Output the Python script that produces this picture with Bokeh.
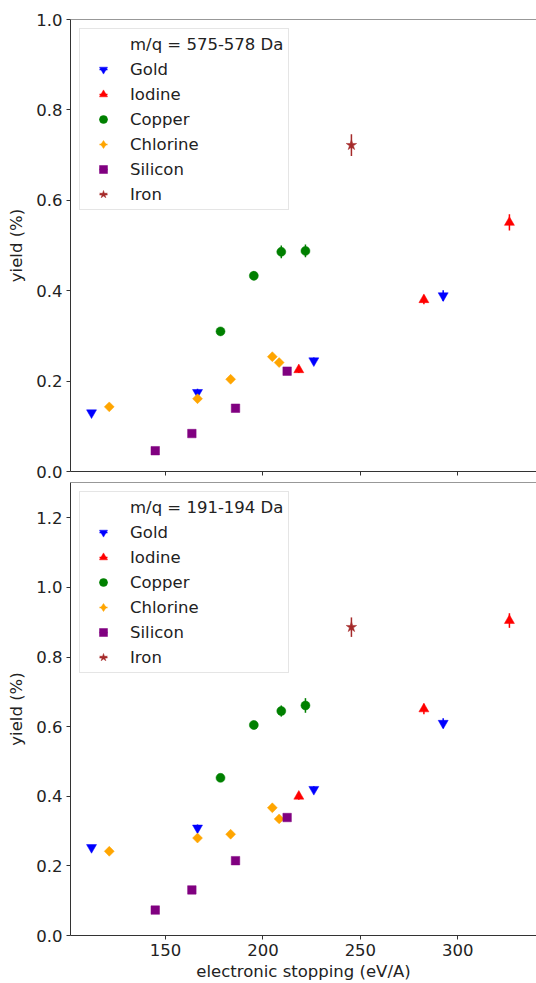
import math
from bokeh.plotting import figure
from bokeh.models import Range1d, FixedTicker, PrintfTickFormatter, Legend, LegendItem, Span
from bokeh.layouts import column
from bokeh.embed import file_html
from bokeh.resources import INLINE

# ---------------- data ----------------
elements = ["Gold", "Iodine", "Copper", "Chlorine", "Silicon", "Iron"]

stopping_gold = [112.0, 166.4, 226.1, 292.5]
stopping_iodine = [218.4, 282.6, 326.5]
stopping_copper = [178.2, 195.3, 209.4, 221.8]
stopping_chlorine = [121.1, 166.4, 183.4, 204.8, 208.3]
stopping_silicon = [144.7, 163.5, 185.9, 212.4]
stopping_iron = [245.4]

# m/q = 575-578 Da
yield575_gold = [0.130, 0.175, 0.245, 0.389]
yield575_iodine = [0.225, 0.380, 0.551]
yield575_copper = [0.310, 0.433, 0.486, 0.488]
yield575_chlorine = [0.143, 0.161, 0.204, 0.254, 0.241]
yield575_silicon = [0.046, 0.084, 0.140, 0.222]
yield575_iron = [0.722]

err575_gold = [0.006, 0.008, 0.007, 0.012]
err575_iodine = [0.007, 0.010, 0.018]
err575_copper = [0.008, 0.010, 0.014, 0.014]
err575_chlorine = [0.005, 0.006, 0.006, 0.006, 0.006]
err575_silicon = [0.004, 0.005, 0.006, 0.008]
err575_iron = [0.024]

# m/q = 191-194 Da
yield191_gold = [0.253, 0.309, 0.420, 0.610]
yield191_iodine = [0.400, 0.651, 0.905]
yield191_copper = [0.453, 0.605, 0.645, 0.661]
yield191_chlorine = [0.242, 0.280, 0.291, 0.367, 0.335]
yield191_silicon = [0.073, 0.131, 0.215, 0.339]
yield191_iron = [0.886]

err191_gold = [0.007, 0.010, 0.009, 0.014]
err191_iodine = [0.010, 0.015, 0.021]
err191_copper = [0.010, 0.012, 0.016, 0.021]
err191_chlorine = [0.006, 0.007, 0.007, 0.008, 0.008]
err191_silicon = [0.005, 0.006, 0.007, 0.009]
err191_iron = [0.028]

panel_titles = ["m/q = 575-578 Da", "m/q = 191-194 Da"]
x_ticks = [150, 200, 250, 300]
y_ticks_top = [0.0, 0.2, 0.4, 0.6, 0.8, 1.0]
y_ticks_bottom = [0.0, 0.2, 0.4, 0.6, 0.8, 1.0, 1.2]

stopping = [stopping_gold, stopping_iodine, stopping_copper, stopping_chlorine, stopping_silicon, stopping_iron]
yields_top = [yield575_gold, yield575_iodine, yield575_copper, yield575_chlorine, yield575_silicon, yield575_iron]
errs_top = [err575_gold, err575_iodine, err575_copper, err575_chlorine, err575_silicon, err575_iron]
yields_bot = [yield191_gold, yield191_iodine, yield191_copper, yield191_chlorine, yield191_silicon, yield191_iron]
errs_bot = [err191_gold, err191_iodine, err191_copper, err191_chlorine, err191_silicon, err191_iron]

# ---------------- style ----------------
colors = ["blue", "red", "green", "orange", "purple", "brown"]
markers = ["inverted_triangle", "triangle", "circle", "square", "square", "star"]
legend_markers = ["inverted_triangle", "triangle", "circle", "diamond", "square", "star"]
msizes = [10, 10, 9, 7, 8.5, 11]
mangles = [0, 0, 0, math.pi / 4, 0, 0]

FONT = "DejaVu Sans"
FS = "16.5px"
AX = "#333333"
TXT = "#222222"
X_START, X_END = 101.2, 340.4
NAN = float("nan")


def style_axes(p, yticks, show_xlabels):
    p.xaxis.ticker = FixedTicker(ticks=x_ticks)
    p.yaxis.ticker = FixedTicker(ticks=yticks)
    p.yaxis.formatter = PrintfTickFormatter(format="%.1f")
    for ax in (p.xaxis[0], p.yaxis[0]):
        ax.axis_line_color = AX
        ax.major_tick_line_color = AX
        ax.major_tick_out = 4
        ax.major_tick_in = 0
        ax.minor_tick_line_color = None
        ax.major_label_text_font = FONT
        ax.major_label_text_font_size = FS
        ax.major_label_text_color = TXT
        ax.axis_label_text_font = FONT
        ax.axis_label_text_font_size = FS
        ax.axis_label_text_font_style = "normal"
        ax.axis_label_text_color = TXT
    p.yaxis.major_label_standoff = 4
    p.yaxis.axis_label = "yield (%)"
    p.yaxis.axis_label_standoff = 7
    if show_xlabels:
        p.xaxis.axis_label = "electronic stopping (eV/A)"
        p.xaxis.major_label_standoff = 4
        p.xaxis.axis_label_standoff = 3
    else:
        p.xaxis.major_label_overrides = {t: "" for t in x_ticks}
        p.xaxis.major_label_text_font_size = "0px"
        p.xaxis.major_label_standoff = 0
    p.xgrid.grid_line_color = None
    p.ygrid.grid_line_color = None
    p.outline_line_color = None


def make_panel(yvals, errs, title, y_end, yticks, height, border_top, border_bottom, show_xlabels):
    p = figure(width=536, height=height, output_backend="svg", toolbar_location=None,
               x_range=Range1d(X_START, X_END), y_range=Range1d(0, y_end),
               min_border_left=70, min_border_right=0, min_border_top=border_top,
               min_border_bottom=border_bottom)
    style_axes(p, yticks, show_xlabels)
    p.add_layout(Span(location=y_end, dimension="width", line_color=AX, line_width=1.2))

    dummy = p.scatter(x=[NAN], y=[NAN], fill_alpha=0, line_alpha=0)
    items = [LegendItem(label=title, renderers=[dummy])]
    for i, name in enumerate(elements):
        xs = stopping[i]
        ys = yvals[i]
        lo = [y - e for y, e in zip(ys, errs[i])]
        hi = [y + e for y, e in zip(ys, errs[i])]
        p.segment(x0=xs, y0=lo, x1=xs, y1=hi, line_color=colors[i], line_width=1.5)
        p.scatter(x=xs, y=ys, marker=markers[i], size=msizes[i], angle=mangles[i],
                  fill_color=colors[i], line_color=colors[i], line_width=0.5)
        bar = p.scatter(x=[NAN], y=[NAN], marker="dash", angle=math.pi / 2,
                        size=10, line_color=colors[i], line_width=1.5)
        sym = p.scatter(x=[NAN], y=[NAN], marker=legend_markers[i],
                        fill_color=colors[i], line_color=colors[i], line_width=0.5)
        items.append(LegendItem(label=name, renderers=[bar, sym]))

    leg = Legend(items=items, location="top_left")
    leg.margin = 9
    leg.padding = 5
    leg.spacing = 5
    leg.glyph_width = 36
    leg.glyph_height = 20
    leg.label_height = 20
    leg.label_standoff = 9
    leg.label_text_font = FONT
    leg.label_text_font_size = FS
    leg.label_text_color = TXT
    leg.border_line_color = "#cccccc"
    leg.border_line_width = 1
    leg.background_fill_alpha = 0.8
    p.add_layout(leg)
    return p


top = make_panel(yields_top, errs_top, panel_titles[0], 1.0, y_ticks_top,
                 height=481, border_top=19, border_bottom=10, show_xlabels=False)
bottom = make_panel(yields_bot, errs_bot, panel_titles[1], 1.3017, y_ticks_bottom,
                    height=502, border_top=1, border_bottom=0, show_xlabels=True)

layout = column(top, bottom, spacing=0)
open("out.html", "w").write(file_html(layout, INLINE))
